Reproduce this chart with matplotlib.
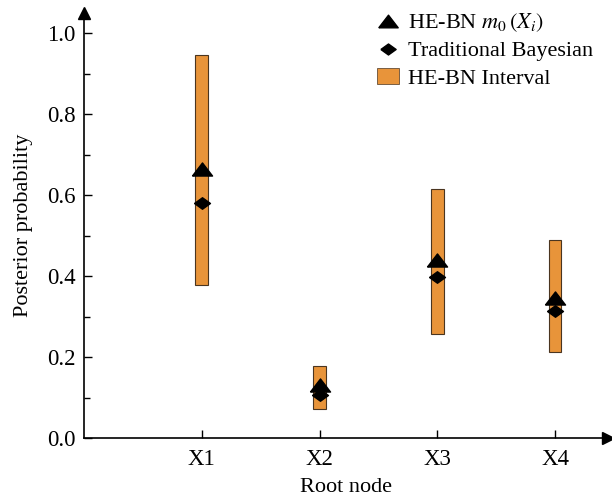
import matplotlib.pyplot as plt
from matplotlib.patches import Patch
from matplotlib.lines import Line2D
from matplotlib.ticker import MultipleLocator

plt.rcParams['font.family'] = ['Liberation Serif', 'DejaVu Serif']
plt.rcParams['mathtext.fontset'] = 'stix'

# Hodnoty odčítané z grafu
uzly = ['X1', 'X2', 'X3', 'X4']
interval_dole = [0.379, 0.072, 0.256, 0.212]
interval_hore = [0.947, 0.179, 0.615, 0.49]
hebn_m0 = [0.665, 0.132, 0.441, 0.347]
tradicny = [0.581, 0.107, 0.399, 0.314]

pozicie = list(range(1, len(uzly) + 1))
farba = '#E8943A'

# sploštený trojuholník a kosoštvorec ako v origináli
trojuholnik = [(-1, -0.65), (1, -0.65), (0, 0.65), (-1, -0.65)]
kosostvorec = [(-1, 0), (0, 0.72), (1, 0), (0, -0.72), (-1, 0)]

fig = plt.figure(figsize=(6.12, 5.0), dpi=100)
ax = fig.add_axes([84 / 612, 62 / 500, 524 / 612, 425 / 500])

vysky = [h - d for d, h in zip(interval_dole, interval_hore)]
ax.bar(pozicie, vysky, bottom=interval_dole, width=0.11, color=farba,
       edgecolor='#4a3520', linewidth=0.8, zorder=2)
ax.plot(pozicie, hebn_m0, linestyle='none', marker=trojuholnik, color='black',
        markersize=14.5, zorder=4)
ax.plot(pozicie, tradicny, linestyle='none', marker=kosostvorec, color='black',
        markersize=11.5, zorder=3)

ax.set_xlim(0, 4.45)
ax.set_ylim(0, 1.05)
ax.set_xticks(pozicie)
ax.set_xticklabels(uzly)
ax.yaxis.set_minor_locator(MultipleLocator(0.1))
ax.set_yticks([0.0, 0.2, 0.4, 0.6, 0.8, 1.0])
ax.set_yticklabels(['0.0', '0.2', '0.4', '0.6', '0.8', '1.0'])
ax.tick_params(axis='both', which='both', direction='in', labelsize=16.5)
ax.tick_params(axis='both', which='major', length=6, width=1)
ax.tick_params(axis='y', which='minor', length=4, width=1)
ax.tick_params(axis='x', pad=8)
ax.tick_params(axis='y', pad=6)

for s in ['top', 'right']:
    ax.spines[s].set_visible(False)
for s in ['left', 'bottom']:
    ax.spines[s].set_linewidth(1.2)

# šípky na konci osí
ax.plot(1, 0, '>', color='black', markersize=8, transform=ax.transAxes, clip_on=False)
ax.plot(0, 1, '^', color='black', markersize=8, transform=ax.transAxes, clip_on=False)

ax.set_xlabel('Root node', fontsize=16, labelpad=6)
ax.set_ylabel('Posterior probability', fontsize=16, labelpad=10)

handles = [
    Line2D([], [], marker=trojuholnik, color='black', linestyle='none', markersize=14),
    Line2D([], [], marker=kosostvorec, color='black', linestyle='none', markersize=11),
    Patch(facecolor=farba, edgecolor='#4a3520', linewidth=0.5),
]
labels = [r'HE-BN $m_0\,(X_i)$', 'Traditional Bayesian', 'HE-BN Interval']
fig.legend(handles, labels, loc='upper left', bbox_to_anchor=(377 / 612, 0.977),
           frameon=False, fontsize=16, handlelength=1.0, handletextpad=0.4,
           labelspacing=0.3, borderpad=0, borderaxespad=0)

fig.savefig('out.png', dpi=100)
